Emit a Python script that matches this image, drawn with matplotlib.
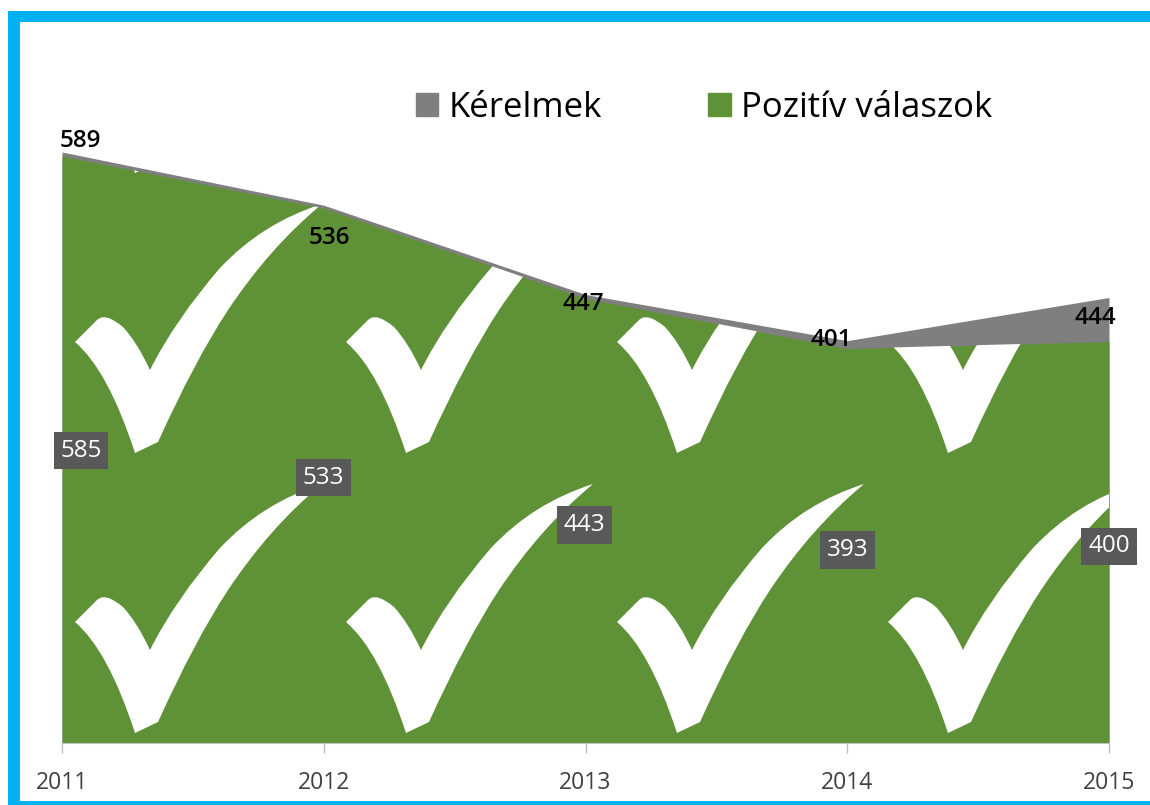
# coding=utf-8
# filename: plot.py
import matplotlib
matplotlib.use("Agg")
import matplotlib.pyplot as plt
import matplotlib.patches as mpatches
from matplotlib.path import Path

years = [2011, 2012, 2013, 2014, 2015]
requests = [589, 536, 447, 401, 444]
positive = [585, 533, 443, 393, 400]
series_names = ["Kérelmek", "Pozitív válaszok"]

GREEN = "#5F9136"
GREY = "#7F7F7F"
BOX = "#595959"
BLUE = "#00B0F0"

W, H = 1150, 805
LEFT, RIGHT, BASE, TOP = 62, 1109, 743, 22
PX_PER_UNIT = 1.0034

# outline of one tick of the pattern fill, in image pixels
check_px = [(150, 650), (175, 600), (220, 548), (262, 503), (322, 484),
            (270, 527), (228, 590), (195, 640), (158, 722), (135, 733),
            (108, 650), (75, 622), (97, 600), (105, 592), (123, 607),
            (137, 622), (150, 650)]
check_codes = [Path.MOVETO, Path.CURVE3, Path.CURVE3, Path.CURVE3, Path.CURVE3,
               Path.CURVE3, Path.CURVE3, Path.CURVE3, Path.CURVE3, Path.LINETO,
               Path.CURVE3, Path.CURVE3, Path.LINETO, Path.CURVE3, Path.CURVE3,
               Path.CURVE3, Path.CURVE3]
TILE_W, TILE_H = 271, 280


def px_to_data(px, py):
    return (2011 + (px - LEFT) * 4.0 / (RIGHT - LEFT),
            (BASE - py) / PX_PER_UNIT)


def main():
    plt.rcParams["font.family"] = ["Open Sans", "DejaVu Sans"]
    fig = plt.figure(figsize=(W / 100, H / 100), dpi=100, facecolor="white")

    # blue frame of the slide
    for x0, y0, x1, y1 in [(8, 11, 20, 805), (8, 11, W, 22), (8, 801, W, 805)]:
        fig.patches.append(mpatches.Rectangle(
            (x0 / W, 1 - y1 / H), (x1 - x0) / W, (y1 - y0) / H,
            transform=fig.transFigure, color=BLUE, lw=0, zorder=5))

    ax = fig.add_axes([LEFT / W, 1 - BASE / H, (RIGHT - LEFT) / W,
                       (BASE - TOP) / H])
    ax.set_xlim(2011, 2015)
    ax.set_ylim(0, (BASE - TOP) / PX_PER_UNIT)
    ax.patch.set_alpha(0)

    ax.fill_between(years, requests, color=GREY, lw=0, zorder=1)
    green = ax.fill_between(years, positive, color=GREEN, lw=0, zorder=2)

    # pattern fill: white ticks cut to the green area
    for col in range(4):
        for row in range(3):
            pts = [px_to_data(x + col * TILE_W, y - row * TILE_H)
                   for x, y in check_px]
            tick = mpatches.PathPatch(Path(pts, check_codes), facecolor="white",
                                      edgecolor="none", zorder=3)
            ax.add_patch(tick)
            tick.set_clip_path(green.get_paths()[0], green.get_transform())

    # labels of the two series
    grey_offsets = [(18, 11), (6, -33), (-2, -10), (-16, 1), (-14, -21)]
    for x, y, off in zip(years, requests, grey_offsets):
        ax.annotate(str(y), (x, y), xytext=off, textcoords="offset pixels",
                    ha="center", va="center", fontsize=17.5,
                    fontweight="semibold", color="black", zorder=6,
                    annotation_clip=False)
    green_offsets = [(19, -1), (0, -2), (-1, -4), (0, -4), (0, -4)]
    for x, y, off in zip(years, positive, green_offsets):
        ax.annotate(str(y), (x, y / 2.0), xytext=off,
                    textcoords="offset pixels", ha="center", va="center",
                    fontsize=17.5, fontweight="medium", color="white", zorder=6,
                    annotation_clip=False,
                    bbox=dict(boxstyle="square,pad=0.28", fc=BOX, ec="none"))

    for side in ["left", "right", "top"]:
        ax.spines[side].set_visible(False)
    ax.spines["bottom"].set_color("#BFBFBF")
    ax.set_yticks([])
    ax.set_xticks(years)
    ax.set_xticklabels([str(y) for y in years], fontsize=16.5,
                       fontweight="medium", color="#404040")
    ax.tick_params(axis="x", length=7, width=1, color="#BFBFBF", pad=13)

    handles = [mpatches.Patch(color=GREY, label=series_names[0]),
               mpatches.Patch(color=GREEN, label=series_names[1])]
    fig.legend(handles=handles, loc="center left",
               bbox_to_anchor=(407 / W, 1 - 108 / H), ncol=2, frameon=False,
               fontsize=25, handlelength=0.65, handleheight=0.65,
               handletextpad=0.3, columnspacing=3.05, borderaxespad=0,
               borderpad=0.25)

    fig.savefig("out.png", dpi=100, facecolor="white")


if __name__ == '__main__':
    main()
